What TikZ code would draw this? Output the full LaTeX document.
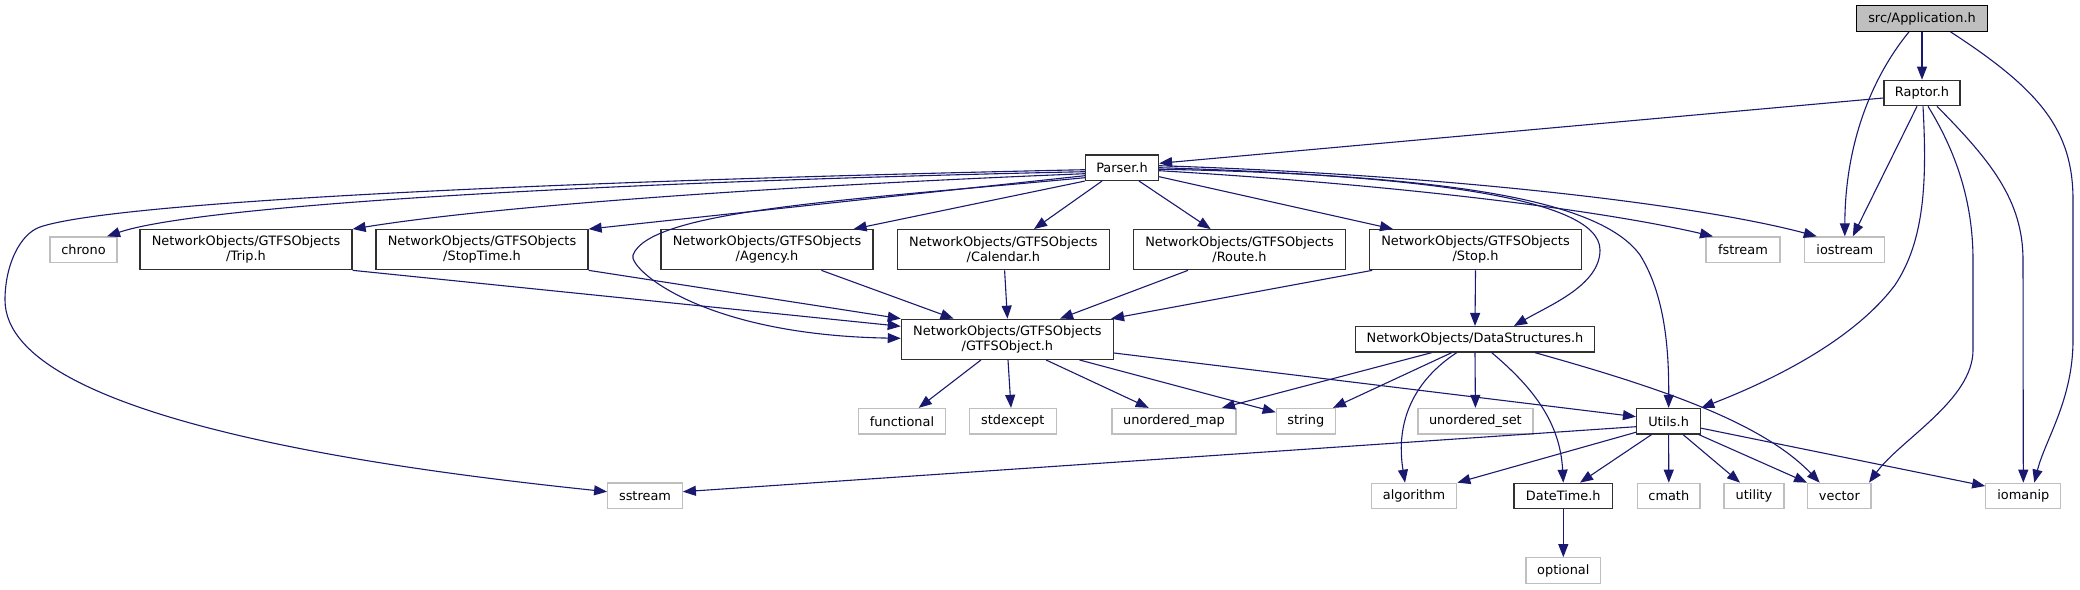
\documentclass[tikz,border=0pt]{standalone}
\usepackage{fontspec}
\setmainfont{DejaVu Sans}
\usetikzlibrary{arrows.meta,calc}
\definecolor{edgeblue}{HTML}{191970}
\definecolor{sysgrey}{HTML}{BFBFBF}
\definecolor{projborder}{HTML}{303030}
\begin{document}
\begin{tikzpicture}[x=1pt,y=-1pt,
  every node/.style={font=\fontsize{12.9}{15.3}\selectfont, inner sep=0pt, align=center, line width=1.3pt, fill=white},
  proj/.style={draw=projborder, rectangle},
  sys/.style={draw=sysgrey, rectangle},
  one/.style={minimum height=25.4pt},
  two/.style={minimum height=40pt, minimum width=212pt},
  dep/.style={draw=edgeblue, line width=1.1pt, -{Triangle[length=13pt,width=10pt]}},
]
\useasboundingbox (0,0) rectangle (2080,589);
\fill[white] (0,0) rectangle (2080,589);

% nodes
\node[proj, one, fill=sysgrey, draw=black, minimum width=131pt] (app) at (1922,18.5) {src/Application.h};
\node[proj, one, minimum width=76pt] (raptor) at (1922,93) {Raptor.h};
\node[proj, one, minimum width=73pt] (parser) at (1122,167.7) {Parser.h};
\node[sys, one, minimum width=67pt] (chrono) at (83.5,249.7) {chrono};
\node[proj, two] (trip) at (246,249.7) {NetworkObjects/GTFSObjects\\/Trip.h};
\node[proj, two] (stoptime) at (482,249.7) {NetworkObjects/GTFSObjects\\/StopTime.h};
\node[proj, two] (agency) at (767,249.7) {NetworkObjects/GTFSObjects\\/Agency.h};
\node[proj, two] (calendar) at (1003.4,249.7) {NetworkObjects/GTFSObjects\\/Calendar.h};
\node[proj, two] (route) at (1239.5,249.7) {NetworkObjects/GTFSObjects\\/Route.h};
\node[proj, two] (stop) at (1475.5,249.7) {NetworkObjects/GTFSObjects\\/Stop.h};
\node[sys, one, minimum width=74pt] (fstream) at (1743,249.7) {fstream};
\node[sys, one, minimum width=80pt] (iostream) at (1844.8,249.7) {iostream};
\node[proj, two] (gtfsobj) at (1007.4,339.3) {NetworkObjects/GTFSObjects\\/GTFSObject.h};
\node[proj, one, minimum width=239pt] (datastruct) at (1475,339.3) {NetworkObjects/DataStructures.h};
\node[sys, one, minimum width=87pt] (functional) at (902,421.2) {functional};
\node[sys, one, minimum width=87pt] (stdexcept) at (1012.8,421.2) {stdexcept};
\node[sys, one, minimum width=124pt] (umap) at (1174,421.2) {unordered\_map};
\node[sys, one, minimum width=59pt] (string) at (1305.8,421.2) {string};
\node[sys, one, minimum width=115pt] (uset) at (1475.4,421.2) {unordered\_set};
\node[proj, one, minimum width=64pt] (utils) at (1668.6,421.2) {Utils.h};
\node[sys, one, minimum width=74.5pt] (sstream) at (645,495.7) {sstream};
\node[sys, one, minimum width=85.4pt] (algorithm) at (1414,496) {algorithm};
\node[proj, one, minimum width=98.6pt] (datetime) at (1563.3,496) {DateTime.h};
\node[sys, one, minimum width=62.4pt] (cmath) at (1668.8,496) {cmath};
\node[sys, one, minimum width=60pt] (utility) at (1754,496) {utility};
\node[sys, one, minimum width=63.3pt] (vector) at (1839.4,496) {vector};
\node[sys, one, minimum width=75pt] (iomanip) at (2023.3,496) {iomanip};
\node[sys, one, minimum width=74.5pt] (optional) at (1563.3,570.5) {optional};

% Application.h
\draw[dep] (app.south) -- (raptor.north);
\draw[dep] ($(app.south)+(-13,0)$) .. controls (1868,82) and (1845,150) .. (iostream.north);
\draw[dep] ($(app.south)+(28.5,0)$) .. controls (2040,90) and (2073,130) .. (2073,200) -- (2073,340) .. controls (2073,400) and (2045,440) .. ($(iomanip.north)+(11,0)$);

% Raptor.h
\draw[dep] ($(raptor.west)+(0,5)$) -- ($(parser.east)+(0,-4.4)$);
\draw[dep] ($(raptor.south)+(-5,0)$) -- ($(iostream.north)+(8,0)$);
\draw[dep] ($(raptor.south)+(1,0)$) .. controls (1927,180) and (1925,240) .. (1895,285) .. controls (1850,345) and (1760,385) .. (utils.north east);
\draw[dep] ($(raptor.south)+(6,0)$) .. controls (1955,150) and (1973,200) .. (1973,260) -- (1973,350) .. controls (1973,400) and (1900,440) .. ($(vector.north)+(29.6,0)$);
\draw[dep] ($(raptor.south)+(15,0)$) .. controls (1990,160) and (2023,200) .. (2023,260) -- (iomanip.north);

% Parser.h
\draw[dep] ($(parser.west)+(0,2)$) .. controls (600,180) and (120,200) .. (40,227) .. controls (20,234) and (5,265) .. (5,300) .. controls (5,420) and (400,470) .. ($(sstream.west)+(0,-4)$);
\draw[dep] ($(parser.west)+(0,4)$) .. controls (600,182) and (200,205) .. ($(chrono.north)+(23.5,0)$);
\draw[dep] ($(parser.west)+(0,6)$) .. controls (800,185) and (500,205) .. (trip.north east);
\draw[dep] ($(parser.west)+(0,8)$) -- (stoptime.north east);
\draw[dep] ($(parser.west)+(0,10)$) .. controls (850,200) and (650,210) .. (633,255) .. controls (628,268) and (700,335) .. ($(gtfsobj.west)+(0,-1)$);
\draw[dep] (parser.south west) -- ($(agency.north)+(86.6,0)$);
\draw[dep] ($(parser.south)+(-20,0)$) -- ($(calendar.north)+(30.6,0)$);
\draw[dep] ($(parser.south)+(17,0)$) -- ($(route.north)+(-28.8,0)$);
\draw[dep] ($(parser.east)+(0,9)$) -- ($(stop.north)+(-82.5,0)$);
\draw[dep] (parser.east) .. controls (1400,175) and (1600,195) .. (1600,250) .. controls (1600,285) and (1550,305) .. ($(datastruct.north)+(39,0)$);
\draw[dep] ($(parser.east)+(0,1.5)$) .. controls (1450,175) and (1600,200) .. (1640,255) .. controls (1665,295) and (1669,350) .. (utils.north);
\draw[dep] ($(parser.east)+(0,3)$) .. controls (1400,185) and (1600,210) .. ($(fstream.north)+(-30,0)$);
\draw[dep] ($(parser.east)+(0,-2)$) .. controls (1450,175) and (1700,205) .. ($(iostream.north)+(-28,0)$);

% GTFS object headers
\draw[dep] (trip.south east) -- ($(gtfsobj.west)+(0,-13)$);
\draw[dep] (stoptime.south east) -- (gtfsobj.north west);
\draw[dep] ($(agency.south)+(54.4,0)$) -- ($(gtfsobj.north)+(-53.8,0)$);
\draw[dep] ($(calendar.south)+(1.2,0)$) -- (gtfsobj.north);
\draw[dep] ($(route.south)+(-51.5,0)$) -- ($(gtfsobj.north)+(52.6,0)$);
\draw[dep] ($(stop.south west)+(3.4,0)$) -- ($(gtfsobj.north east)+(-3,0)$);
\draw[dep] (stop.south) -- (datastruct.north);

% GTFSObject.h
\draw[dep] ($(gtfsobj.south)+(-26.4,0)$) -- ($(functional.north)+(16.75,0)$);
\draw[dep] ($(gtfsobj.south)+(0.6,0)$) -- ($(stdexcept.north)+(-1.8,0)$);
\draw[dep] ($(gtfsobj.south)+(38.6,0)$) -- ($(umap.north)+(-25.3,0)$);
\draw[dep] ($(gtfsobj.south)+(72,0)$) -- ($(string.north west)+(0,4.4)$);
\draw[dep] ($(gtfsobj.east)+(0,13.7)$) -- ($(utils.west)+(0,-4.5)$);

% DataStructures.h
\draw[dep] ($(datastruct.south)+(-43.3,0)$) -- ($(umap.north)+(48,0)$);
\draw[dep] ($(datastruct.south)+(-23.3,0)$) -- ($(string.north)+(27.2,0)$);
\draw[dep] ($(datastruct.south)+(-18.3,0)$) .. controls (1415,380) and (1395,420) .. ($(algorithm.north)+(-9,0)$);
\draw[dep] (datastruct.south) -- (uset.north);
\draw[dep] ($(datastruct.south)+(16.7,0)$) .. controls (1530,385) and (1560,420) .. (datetime.north);
\draw[dep] ($(datastruct.south)+(60,0)$) .. controls (1650,385) and (1760,420) .. ($(vector.north)+(-19.7,0)$);

% Utils.h
\draw[dep] ($(utils.west)+(0,5.5)$) -- ($(sstream.east)+(0,-4)$);
\draw[dep] ($(utils.south west)+(0,-2.3)$) -- (algorithm.north east);
\draw[dep] ($(utils.south)+(-17,0)$) -- ($(datetime.north)+(16.7,0)$);
\draw[dep] (utils.south) -- (cmath.north);
\draw[dep] ($(utils.south)+(14.4,0)$) -- ($(utility.north)+(-14,0)$);
\draw[dep] ($(utils.south east)+(-2.6,0)$) -- (vector.north west);
\draw[dep] ($(utils.east)+(0,7)$) -- ($(iomanip.north west)+(0,3.4)$);

% DateTime.h
\draw[dep] (datetime.south) -- (optional.north);
\end{tikzpicture}
\end{document}
